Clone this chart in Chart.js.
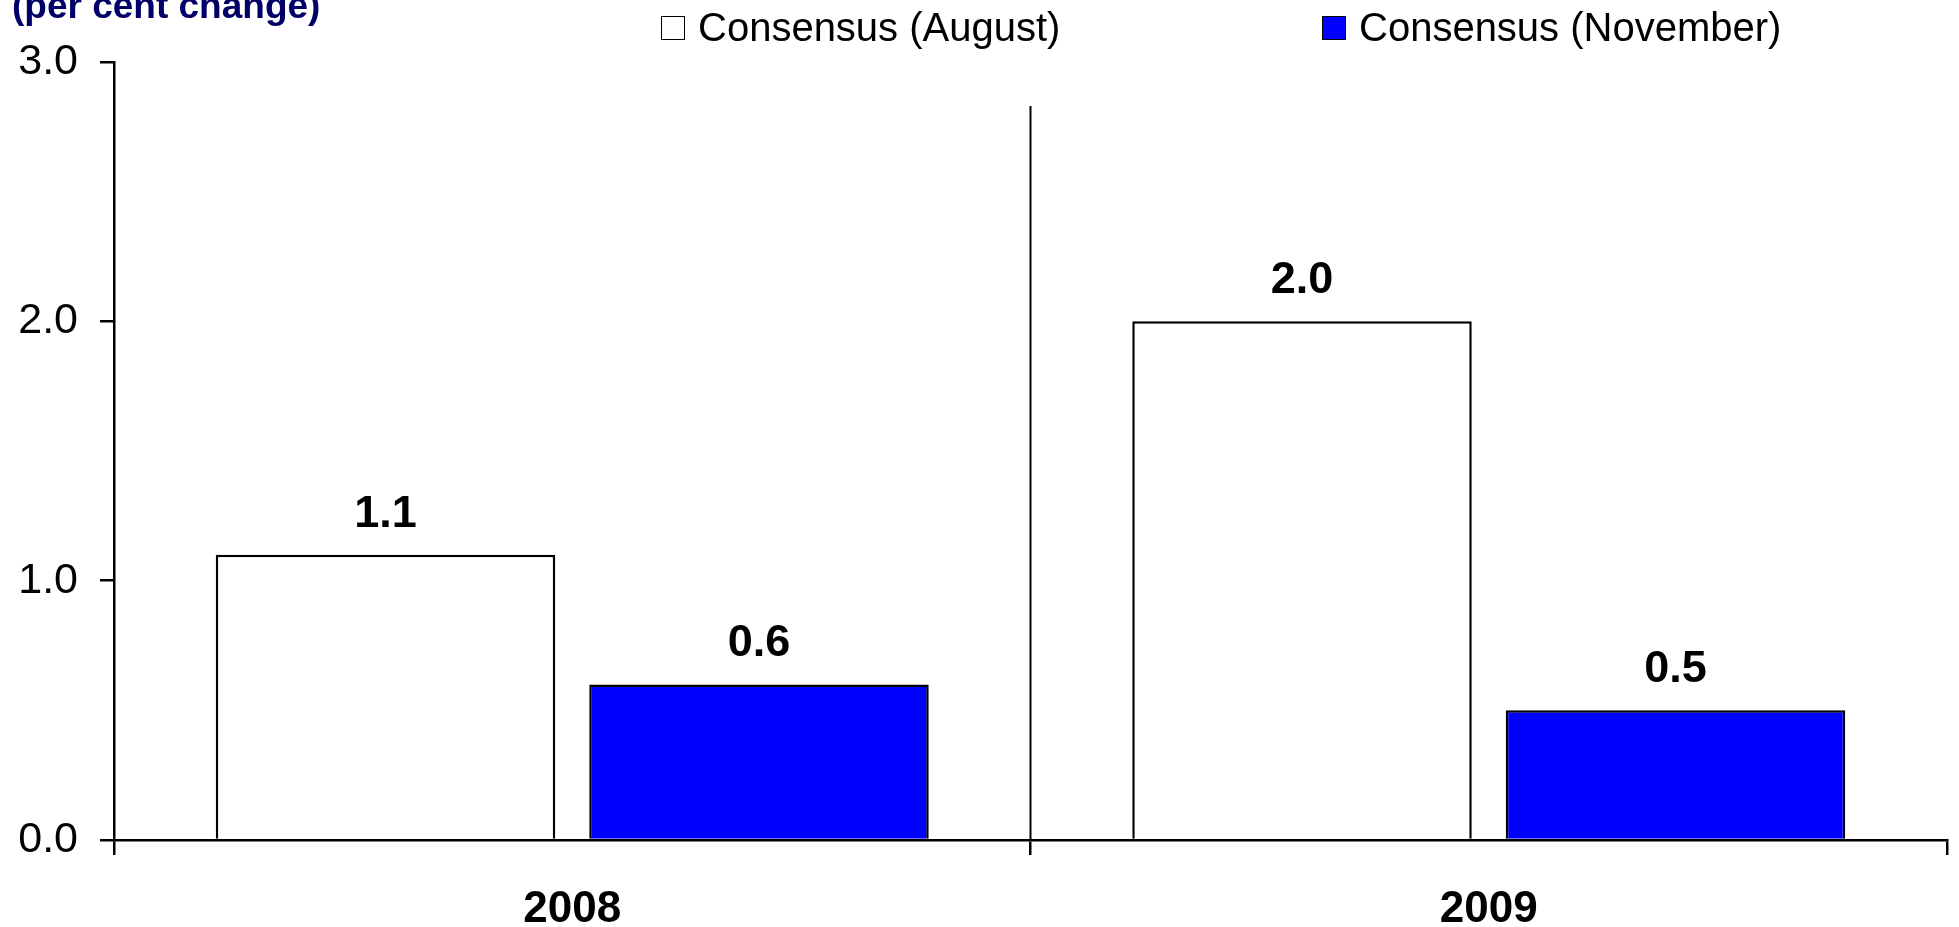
<!DOCTYPE html>
<html>
<head>
<meta charset="utf-8">
<script src="https://cdn.jsdelivr.net/npm/chart.js@4"></script>
<style>
    body { margin: 0; background: #fff; }
    #wrap { position: relative; width: 1959px; height: 927px; }
    .legende { position: absolute; top: 5px; font-family: "Liberation Sans", Arial, sans-serif; font-size: 40px; color: #000; display: flex; align-items: center; }
    .legende span.boite { display: inline-block; width: 22px; height: 22px; border: 1.5px solid #000; margin-right: 13px; }
</style>
</head>
<body>
<div id="wrap">
    <canvas id="myChart" width="1959" height="927"></canvas>
    <div class="legende" style="left:661px;"><span class="boite" style="background:#fff;"></span>Consensus (August)</div>
    <div class="legende" style="left:1322px;"><span class="boite" style="background:#0000ff;"></span>Consensus (November)</div>
</div>
<script>
    const annees = ["2008", "2009"];
    const consensusAout = [1.1, 2.0];
    const consensusNovembre = [0.6, 0.5];
    const ticksY = [0, 1, 2, 3];

    // titre coupé en haut a gauche + ligne de separation entre les annees
    const extras = {
        id: "extras",
        afterDraw(chart) {
            let ctx = chart.ctx;
            let x = chart.scales.x;
            let area = chart.chartArea;
            ctx.save();
            ctx.fillStyle = "#000066";
            ctx.font = "bold 37px 'Liberation Sans', Arial, sans-serif";
            ctx.textBaseline = "alphabetic";
            ctx.fillText("(per cent change)", 12, 18);

            let milieu = (x.getPixelForValue(0) + x.getPixelForValue(1)) / 2;
            ctx.strokeStyle = "#000";
            ctx.lineWidth = 2;
            ctx.beginPath();
            ctx.moveTo(milieu, area.top + 44);
            ctx.lineTo(milieu, area.bottom);
            ctx.stroke();

            // valeurs au dessus des barres
            ctx.fillStyle = "#000";
            ctx.font = "bold 45px 'Liberation Sans', Arial, sans-serif";
            ctx.textAlign = "center";
            chart.data.datasets.forEach((ds, i) => {
                chart.getDatasetMeta(i).data.forEach((bar, j) => {
                    ctx.fillText(ds.data[j].toFixed(1), bar.x, bar.y - 28);
                });
            });
            ctx.restore();
        }
    };

    new Chart(document.getElementById("myChart"), {
        type: "bar",
        data: {
            labels: annees,
            datasets: [{
                label: "Consensus (August)",
                data: consensusAout,
                backgroundColor: "#ffffff",
                borderColor: "#000",
                borderWidth: 2.5
            }, {
                label: "Consensus (November)",
                data: consensusNovembre,
                backgroundColor: "#0000ff",
                borderColor: "#000",
                borderWidth: 2.5
            }]
        },
        options: {
            responsive: false,
            animation: false,
            categoryPercentage: 0.815,
            barPercentage: 0.909,
            layout: { padding: { top: 62, right: 12, left: 0, bottom: 0 } },
            plugins: { legend: { display: false }, tooltip: { enabled: false } },
            scales: {
                x: {
                    afterFit: (s) => { s.height = 87; },
                    grid: { offset: true, drawOnChartArea: false, tickLength: 15, color: "#000", lineWidth: 2.5 },
                    border: { color: "#000", width: 2.5 },
                    ticks: { color: "#000", padding: 28, font: { family: "'Liberation Sans', Arial", size: 44, weight: "bold" } }
                },
                y: {
                    min: 0,
                    max: 3,
                    afterFit: (s) => { s.width = 114; },
                    afterBuildTicks: (s) => { s.ticks = ticksY.map(v => ({ value: v })); },
                    grid: { drawOnChartArea: false, tickLength: 14, color: "#000", lineWidth: 2.5 },
                    border: { color: "#000", width: 2.5 },
                    ticks: {
                        color: "#000",
                        padding: 22,
                        font: { family: "'Liberation Sans', Arial", size: 43 },
                        callback: (v) => Number(v).toFixed(1)
                    }
                }
            }
        },
        plugins: [extras]
    });
</script>
</body>
</html>
